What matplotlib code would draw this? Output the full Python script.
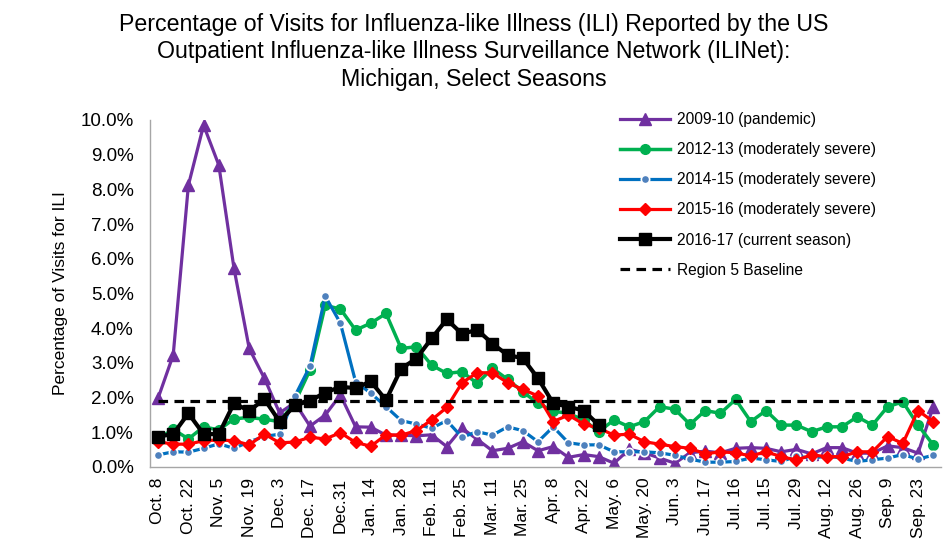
import numpy as np
import matplotlib
matplotlib.use("Agg")
import matplotlib.pyplot as plt
from matplotlib.ticker import FuncFormatter

plt.rcParams['font.family'] = ['Liberation Sans', 'DejaVu Sans']

# week labels (every second week is labelled)
tick_labels = ["Oct. 8", "Oct. 22", "Nov. 5", "Nov. 19", "Dec. 3", "Dec. 17", "Dec.31",
               "Jan. 14", "Jan. 28", "Feb. 11", "Feb. 25", "Mar. 11", "Mar. 25",
               "Apr. 8", "Apr. 22", "May. 6", "May. 20", "Jun. 3", "Jun. 17",
               "Jul. 16", "Jul. 15", "Jul. 29", "Aug. 12", "Aug. 26", "Sep. 9", "Sep. 23"]

# % of visits for ILI, one value per week
s2009 = [1.97, 3.22, 8.12, 9.85, 8.70, 5.72, 3.41, 2.55, 1.55, 1.85,
         1.17, 1.49, 2.07, 1.15, 1.14, 0.91, 0.91, 0.89, 0.92, 0.58,
         1.11, 0.79, 0.46, 0.53, 0.72, 0.46, 0.58, 0.27, 0.35, 0.29,
         0.10, 0.50, 0.40, 0.25, 0.10, 0.40, 0.45, 0.40, 0.53, 0.55,
         0.53, 0.43, 0.50, 0.37, 0.55, 0.55, 0.39, 0.39, 0.60, 0.55,
         0.39, 1.73]
s2012 = [0.80, 1.08, 0.80, 1.15, 1.06, 1.38, 1.42, 1.37, 1.30, 1.85,
         2.79, 4.65, 4.55, 3.94, 4.14, 4.42, 3.41, 3.46, 2.93, 2.69,
         2.74, 2.40, 2.84, 2.52, 2.16, 1.83, 1.60, 1.54, 1.35, 1.01,
         1.35, 1.15, 1.30, 1.73, 1.66, 1.22, 1.62, 1.54, 1.94, 1.30,
         1.62, 1.20, 1.20, 1.01, 1.15, 1.15, 1.44, 1.20, 1.73, 1.87,
         1.20, 0.63]
s2014 = [0.34, 0.43, 0.42, 0.53, 0.66, 0.53, 0.72, 0.87, 0.94, 2.03,
         2.90, 4.92, 4.14, 2.45, 2.12, 1.73, 1.33, 1.23, 1.11, 1.33,
         0.85, 1.01, 0.91, 1.15, 1.04, 0.72, 1.15, 0.69, 0.63, 0.63,
         0.43, 0.43, 0.43, 0.40, 0.33, 0.22, 0.13, 0.13, 0.15, 0.25,
         0.20, 0.15, 0.30, 0.25, 0.30, 0.25, 0.15, 0.20, 0.25, 0.35,
         0.22, 0.33]
s2015 = [0.72, 0.65, 0.65, 0.75, 0.77, 0.75, 0.63, 0.94, 0.69, 0.71,
         0.85, 0.80, 0.98, 0.70, 0.59, 0.92, 0.91, 1.04, 1.35, 1.71,
         2.42, 2.71, 2.71, 2.42, 2.23, 2.04, 1.30, 1.49, 1.23, 1.11,
         0.91, 0.94, 0.72, 0.65, 0.58, 0.53, 0.37, 0.43, 0.40, 0.31,
         0.43, 0.29, 0.19, 0.34, 0.29, 0.29, 0.43, 0.43, 0.87, 0.67,
         1.62, 1.30]
s2016 = [0.87, 0.94, 1.54, 0.94, 0.94, 1.83, 1.61, 1.95, 1.30, 1.77,
         1.90, 2.14, 2.30, 2.27, 2.46, 1.92, 2.83, 3.12, 3.70, 4.25,
         3.83, 3.95, 3.55, 3.22, 3.13, 2.55, 1.83, 1.73, 1.62, 1.20]
baseline = 1.9

weeks = np.arange(len(s2009))

fig = plt.figure(figsize=(9.48, 5.44), dpi=100)
ax = fig.add_axes([150.4 / 948, 1 - 466.7 / 544, 790.4 / 948, 346.7 / 544])

ax.plot(weeks, s2009, color="#7030A0", lw=2.3, marker="^", ms=8,
        label="2009-10 (pandemic)", zorder=2)
ax.plot(weeks, s2012, color="#00B050", lw=2.5, marker="o", ms=7,
        label="2012-13 (moderately severe)", zorder=3)
ax.plot(weeks, s2014, color="#0070C0", lw=2.3, marker="o", ms=6,
        mfc="#4F81BD", mec="white", mew=1.2,
        label="2014-15 (moderately severe)", zorder=4)
ax.plot(weeks, s2015, color="#FF0000", lw=2.3, marker="D", ms=6.5,
        label="2015-16 (moderately severe)", zorder=5)
ax.plot(weeks[:len(s2016)], s2016, color="black", lw=3, marker="s", ms=8,
        label="2016-17 (current season)", zorder=7)
ax.plot(weeks, [baseline] * len(weeks), color="black", lw=2.3, ls=(0, (3, 2)),
        label="Region 5 Baseline", zorder=6)

ax.set_xlim(-0.5, 51.5)
ax.set_ylim(0, 10)
ax.set_yticks(np.arange(0, 11, 1))
ax.yaxis.set_major_formatter(FuncFormatter(lambda v, p: f"{v:.1f}%"))
ax.set_xticks(weeks[::2])
ax.set_xticklabels(tick_labels, rotation=90)
ax.tick_params(axis="y", length=0, pad=12, labelsize=13.5)
ax.tick_params(axis="x", length=0, pad=8, labelsize=12.5)

for side in ["top", "right"]:
    ax.spines[side].set_visible(False)
for side in ["left", "bottom"]:
    ax.spines[side].set_color("#A6A6A6")
    ax.spines[side].set_linewidth(1)

ax.set_ylabel("Percentage of Visits for ILI", fontsize=12.5, labelpad=9)

fig.text(0.5, 0.977,
         "Percentage of Visits for Influenza-like Illness (ILI) Reported by the US\n"
         "Outpatient Influenza-like Illness Surveillance Network (ILINet):\n"
         "Michigan, Select Seasons",
         ha="center", va="top", fontsize=16.7, linespacing=1.25)

ax.legend(loc="upper left", bbox_to_anchor=(0.6397, 0.8195),
          bbox_transform=fig.transFigure, frameon=False, fontsize=11.2,
          handlelength=3.2, labelspacing=0.97, numpoints=1, handletextpad=0.45)

fig.savefig("out.png", dpi=100)
